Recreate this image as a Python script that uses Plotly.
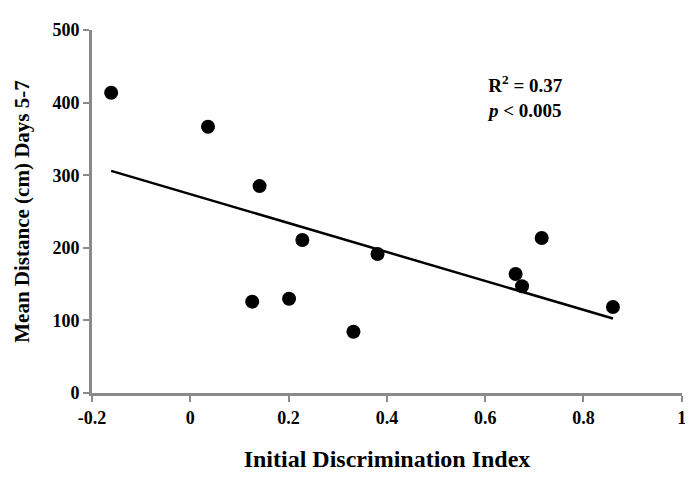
import numpy as np
import plotly.graph_objects as go

# Data
disc_index = [-0.161, 0.036, 0.141, 0.228, 0.126, 0.201, 0.332, 0.381, 0.662, 0.675, 0.715, 0.860]
mean_distance = [413.6, 366.8, 285.0, 210.7, 125.8, 129.9, 84.4, 191.5, 164.0, 147.0, 213.5, 118.5]

x_ticks = [-0.2, 0, 0.2, 0.4, 0.6, 0.8, 1]
x_tick_labels = ["-0.2", "0", "0.2", "0.4", "0.6", "0.8", "1"]
y_ticks = [0, 100, 200, 300, 400, 500]
y_tick_labels = ["0", "100", "200", "300", "400", "500"]

# Linear trendline (least squares) over the data range
slope, intercept = np.polyfit(disc_index, mean_distance, 1)
fit_x = [min(disc_index), max(disc_index)]
fit_y = [slope * v + intercept for v in fit_x]

font_family = "Liberation Serif, Times New Roman, serif"
axis_gray = "#8a8a8a"

fig = go.Figure()
fig.add_trace(go.Scatter(
    x=fit_x, y=fit_y, mode="lines",
    line=dict(color="black", width=2.5),
    showlegend=False, hoverinfo="skip",
))
fig.add_trace(go.Scatter(
    x=disc_index, y=mean_distance, mode="markers",
    marker=dict(color="black", size=14, symbol="circle"),
    showlegend=False,
))

fig.add_annotation(
    x=0.682, y=408, xref="x", yref="y",
    text="R<sup>2</sup> = 0.37<br><i>p</i> &lt; 0.005",
    showarrow=False, align="center",
    xanchor="center", yanchor="middle",
    font=dict(family=font_family, size=19, color="black", weight="bold"),
)

fig.update_layout(
    width=685, height=474,
    margin=dict(l=84, r=11, t=22, b=89),
    paper_bgcolor="white", plot_bgcolor="white",
    font=dict(family=font_family, color="black"),
    xaxis=dict(
        range=[-0.2, 1.0005], tickvals=x_ticks, ticktext=x_tick_labels,
        showgrid=False, zeroline=False,
        showline=True, linecolor=axis_gray, linewidth=3,
        ticks="outside", ticklen=6, tickwidth=2, tickcolor=axis_gray,
        tickfont=dict(family=font_family, size=18, color="black", weight="bold"),
        title=dict(text="Initial Discrimination Index", standoff=24,
                   font=dict(family=font_family, size=24, color="black", weight="bold")),
        automargin=False,
    ),
    yaxis=dict(
        range=[0, 500], tickvals=y_ticks, ticktext=y_tick_labels,
        showgrid=False, zeroline=False,
        showline=True, linecolor=axis_gray, linewidth=3,
        ticks="outside", ticklen=6, tickwidth=2, tickcolor=axis_gray,
        tickfont=dict(family=font_family, size=18, color="black", weight="bold"),
        title=dict(text="Mean Distance (cm) Days 5-7", standoff=18,
                   font=dict(family=font_family, size=21, color="black", weight="bold")),
        automargin=False,
    ),
)

fig.write_html("out.html")
